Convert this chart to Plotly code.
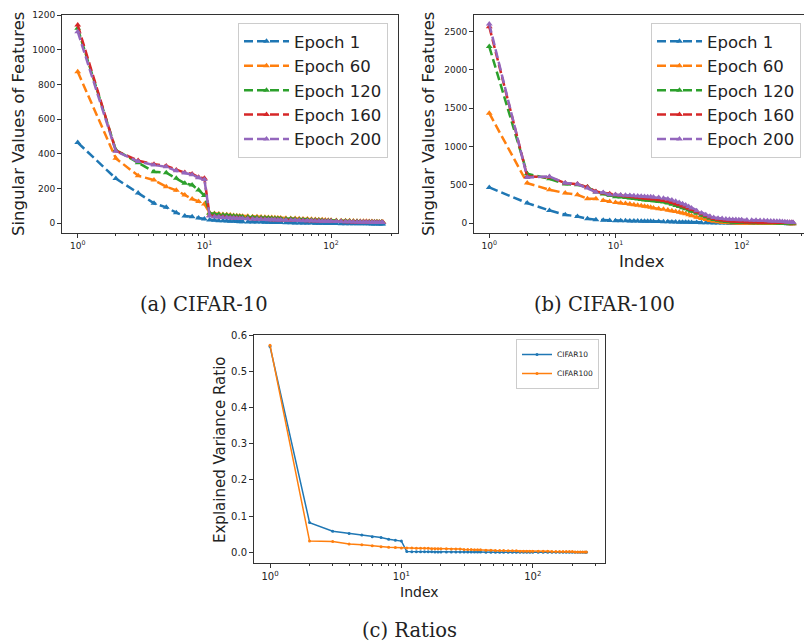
import plotly.graph_objects as go

# ---------------- data ----------------
IDX = [1, 2, 3, 4, 5, 6, 7, 8, 9, 10,
       11, 12, 13, 14, 15, 16, 17, 18, 19, 20,
       22, 24, 26, 28, 30, 32, 34, 36, 38, 40,
       44, 48, 52, 56, 60,
       65, 70, 75, 80, 85, 90, 95, 100,
       110, 120, 130, 140, 150, 160, 170, 180, 190, 200, 210, 220, 230, 240, 250,
       256]

EPOCHS = ["Epoch 1", "Epoch 60", "Epoch 120", "Epoch 160", "Epoch 200"]

c10_e1 = [465, 258, 174, 115, 92, 61, 42, 38, 30, 24,
          19, 17, 15, 14, 13, 12, 11, 10, 9, 9,
          8, 8, 7, 7, 6, 6, 5, 5, 4, 4,
          3, 3, 2, 2, 1,
          1, 1, 0, 0, 0, -1, -1, -1,
          -1, -2, -2, -2, -2, -3, -3, -3, -3, -3, -4, -4, -4, -4, -4,
          -4]
c10_e60 = [873, 374, 274, 249, 211, 190, 163, 140, 126, 111,
           60, 56, 53, 51, 49, 47, 45, 44, 42, 41,
           40, 38, 37, 36, 35, 34, 33, 32, 31, 30,
           29, 28, 27, 26, 25,
           24, 23, 22, 21, 20, 19, 18, 17,
           16, 15, 14, 14, 13, 12, 12, 11, 11, 10, 10, 9, 9, 8, 8,
           7]
c10_e120 = [1123, 422, 349, 297, 291, 259, 230, 221, 192, 160,
            58, 54, 51, 48, 46, 44, 42, 40, 39, 38,
            36, 35, 33, 32, 31, 30, 29, 28, 27, 26,
            25, 24, 23, 22, 21,
            20, 19, 18, 17, 16, 15, 15, 14,
            13, 12, 12, 11, 10, 10, 9, 9, 8, 8, 7, 7, 7, 6, 6,
            5]
c10_e160 = [1142, 418, 361, 340, 330, 307, 292, 284, 265, 259,
            45, 40, 38, 36, 34, 33, 31, 30, 29, 28,
            27, 26, 25, 24, 23, 22, 21, 21, 20, 19,
            18, 18, 17, 16, 16,
            15, 14, 14, 13, 12, 12, 11, 11,
            10, 10, 9, 9, 8, 8, 7, 7, 7, 6, 6, 6, 5, 5, 5,
            4]
c10_e200 = [1104, 415, 356, 336, 325, 302, 290, 280, 262, 252,
            42, 38, 36, 34, 33, 31, 30, 29, 28, 27,
            26, 25, 24, 23, 22, 21, 21, 20, 19, 19,
            18, 17, 17, 16, 15,
            15, 14, 13, 13, 12, 12, 11, 11,
            10, 10, 9, 9, 8, 8, 7, 7, 7, 6, 6, 6, 5, 5, 5,
            4]

c100_e1 = [465, 261, 165, 108, 86, 56, 43, 38, 34, 31,
           30, 29, 28, 27, 26, 25, 24, 23, 22, 21,
           20, 18, 17, 15, 14, 12, 11, 10, 9, 8,
           6, 5, 4, 3, 2,
           1, 0, 0, -1, -1, -2, -2, -3,
           -3, -4, -4, -5, -5, -5, -6, -6, -6, -7, -7, -7, -8, -8, -8,
           -8]
c100_e60 = [1435, 522, 435, 391, 369, 317, 318, 295, 280, 270,
            262, 255, 248, 240, 233, 226, 219, 212, 205, 198,
            188, 180, 172, 162, 152, 142, 131, 120, 108, 95,
            75, 58, 45, 34, 25,
            18, 12, 8, 5, 3, 1, 0, -1,
            -2, -3, -3, -4, -4, -5, -5, -6, -6, -6, -7, -7, -7, -8, -8,
            -8]
c100_e120 = [2305, 643, 578, 509, 500, 470, 405, 380, 360, 345,
             340, 333, 326, 320, 314, 308, 302, 297, 293, 290,
             283, 274, 262, 246, 228, 215, 200, 186, 170, 155,
             128, 103, 82, 62, 45,
             35, 27, 21, 16, 12, 10, 8, 7,
             6, 5, 5, 4, 4, 3, 3, 3, 2, 2, 2, 1, 1, 1, 0,
             0]
c100_e160 = [2566, 608, 600, 522, 509, 470, 412, 391, 382, 369,
             362, 355, 349, 343, 338, 332, 327, 322, 317, 313,
             305, 296, 285, 270, 252, 238, 224, 210, 194, 176,
             148, 122, 98, 78, 60,
             48, 40, 34, 29, 25, 22, 19, 17,
             15, 14, 13, 12, 11, 10, 10, 9, 9, 8, 8, 7, 7, 6, 6,
             5]
c100_e200 = [2601, 595, 608, 522, 509, 457, 404, 399, 369, 369,
             368, 364, 360, 357, 354, 351, 348, 345, 342, 340,
             333, 325, 315, 300, 284, 268, 252, 235, 217, 198,
             160, 130, 108, 88, 73,
             64, 58, 54, 51, 48, 46, 44, 43,
             40, 38, 36, 34, 32, 30, 28, 26, 24, 22, 20, 18, 15, 12, 10,
             8]

ratio_c10 = [0.568, 0.082, 0.058, 0.052, 0.048, 0.043, 0.041, 0.036, 0.033, 0.031,
             0.002, 0.0018, 0.0016, 0.0015, 0.0014, 0.0013, 0.0012, 0.0011, 0.001, 0.001,
             0.0009, 0.0009, 0.0008, 0.0008, 0.0007, 0.0007, 0.0006, 0.0006, 0.0005, 0.0005,
             0.0004, 0.0004, 0.0003, 0.0003, 0.0003,
             0.0002, 0.0002, 0.0002, 0.0002, 0.0002, 0.0002, 0.0002, 0.0002,
             0.0001, 0.0001, 0.0001, 0.0001, 0.0001, 0.0001, 0.0001, 0.0001, 0.0001, 0.0001,
             0.0001, 0.0001, 0.0001, 0.0001, 0.0001,
             0.0001]
ratio_c100 = [0.572, 0.031, 0.030, 0.023, 0.021, 0.018, 0.015, 0.014, 0.013, 0.012,
              0.012, 0.012, 0.011, 0.011, 0.011, 0.011, 0.010, 0.010, 0.010, 0.010,
              0.010, 0.009, 0.009, 0.009, 0.008, 0.008, 0.008, 0.007, 0.007, 0.007,
              0.006, 0.006, 0.005, 0.005, 0.005,
              0.004, 0.004, 0.004, 0.003, 0.003, 0.003, 0.003, 0.003,
              0.003, 0.003, 0.003, 0.002, 0.002, 0.002, 0.002, 0.002, 0.002, 0.002,
              0.001, 0.001, 0.001, 0.001, 0.001,
              0.001]

RATIO_NAMES = ["CIFAR10", "CIFAR100"]
X_TICKVALS = [1, 10, 100]
X_TICKTEXT = ["10<sup>0</sup>", "10<sup>1</sup>", "10<sup>2</sup>"]
X_MINOR = [2, 3, 4, 5, 6, 7, 8, 9, 20, 30, 40, 50, 60, 70, 80, 90, 200, 300]

COLORS = ["#1f77b4", "#ff7f0e", "#2ca02c", "#d62728", "#9467bd"]
W, H = 804, 644

fig = go.Figure()

for series, name, col in zip([c10_e1, c10_e60, c10_e120, c10_e160, c10_e200], EPOCHS, COLORS):
    fig.add_trace(go.Scatter(x=IDX, y=series, name=name, mode="lines+markers",
                             line=dict(color=col, width=2.5, dash="9px,4px"),
                             marker=dict(symbol="triangle-up", size=6, color=col),
                             xaxis="x", yaxis="y", legend="legend"))
for series, name, col in zip([c100_e1, c100_e60, c100_e120, c100_e160, c100_e200], EPOCHS, COLORS):
    fig.add_trace(go.Scatter(x=IDX, y=series, name=name, mode="lines+markers",
                             line=dict(color=col, width=2.5, dash="9px,4px"),
                             marker=dict(symbol="triangle-up", size=6, color=col),
                             xaxis="x2", yaxis="y2", legend="legend2"))
for series, name, col in zip([ratio_c10, ratio_c100], RATIO_NAMES, COLORS[:2]):
    fig.add_trace(go.Scatter(x=IDX, y=series, name=name, mode="lines+markers",
                             line=dict(color=col, width=1.5),
                             marker=dict(symbol="circle", size=3, color=col),
                             xaxis="x3", yaxis="y3", legend="legend3"))


def base_axis(fs):
    return dict(showline=True, linecolor="#333", linewidth=1, mirror=True,
                ticks="outside", ticklen=4, tickwidth=1, tickcolor="#333",
                showgrid=False, zeroline=False,
                tickfont=dict(family="DejaVu Sans", size=fs, color="#222"))


def xlog(domain, rng, anchor, fs):
    d = base_axis(fs)
    d.update(type="log", domain=domain, range=rng, anchor=anchor,
             tickmode="array", tickvals=X_TICKVALS, ticktext=X_TICKTEXT,
             minor=dict(ticks="outside", ticklen=2, tickwidth=1, tickcolor="#333",
                        tickmode="array", tickvals=X_MINOR, showgrid=False))
    return d


def ylin(domain, rng, anchor, fs, dtick, fmt=None):
    d = base_axis(fs)
    d.update(domain=domain, range=rng, anchor=anchor, tickmode="linear", tick0=0, dtick=dtick)
    if fmt:
        d["tickformat"] = fmt
    return d


def px(x):
    return x / W


def py(y):
    return 1 - y / H


legend_common = dict(xanchor="left", yanchor="top", bordercolor="#cccccc", borderwidth=1,
                     bgcolor="rgba(255,255,255,0.8)", tracegroupgap=0)

layout = dict(
    width=W, height=H, margin=dict(l=0, r=0, t=0, b=0),
    template="none", paper_bgcolor="white", plot_bgcolor="white",
    font=dict(family="DejaVu Sans", color="#222"),
    xaxis=xlog([px(62), px(398)], [-0.124, 2.528], "y", 9),
    yaxis=ylin([py(233), py(15)], [-56, 1200], "x", 9, 200),
    xaxis2=xlog([px(474), 1.0], [-0.121, 2.494], "y2", 9),
    yaxis2=ylin([py(233), py(15)], [-130, 2718], "x2", 9, 500),
    xaxis3=xlog([px(254), px(605)], [-0.122, 2.55], "y3", 10),
    yaxis3=ylin([py(562.7), py(335)], [-0.0287, 0.6], "x3", 10, 0.1, ".1f"),
    legend=dict(x=px(238), y=py(23), itemwidth=45,
                font=dict(family="DejaVu Sans", size=16.5, color="#222"), **legend_common),
    legend2=dict(x=px(651), y=py(23), itemwidth=45,
                 font=dict(family="DejaVu Sans", size=16.5, color="#222"), **legend_common),
    legend3=dict(x=px(516), y=py(339),
                 font=dict(family="DejaVu Sans", size=7.5, color="#222"), **legend_common),
    showlegend=True,
)
fig.update_layout(**layout)

ann = []


def text(x, y, s, size, family="DejaVu Sans", angle=0):
    ann.append(dict(x=px(x), y=py(y), xref="paper", yref="paper", text=s, showarrow=False,
                    xanchor="center", yanchor="middle", textangle=angle,
                    font=dict(family=family, size=size, color="#222")))


text(230, 262, "Index", 16.5)
text(18, 124, "Singular Values of Features", 16.5, angle=-90)
text(642, 262, "Index", 16.5)
text(428, 124, "Singular Values of Features", 16.5, angle=-90)
text(419, 592, "Index", 14)
text(220, 449, "Explained Variance Ratio", 15, angle=-90)
text(204, 304, "(a) CIFAR-10", 19.5, family="DejaVu Serif")
text(604, 304, "(b) CIFAR-100", 19.5, family="DejaVu Serif")
text(410, 630, "(c) Ratios", 19.5, family="DejaVu Serif")
fig.update_layout(annotations=ann)

fig.write_html("out.html")
